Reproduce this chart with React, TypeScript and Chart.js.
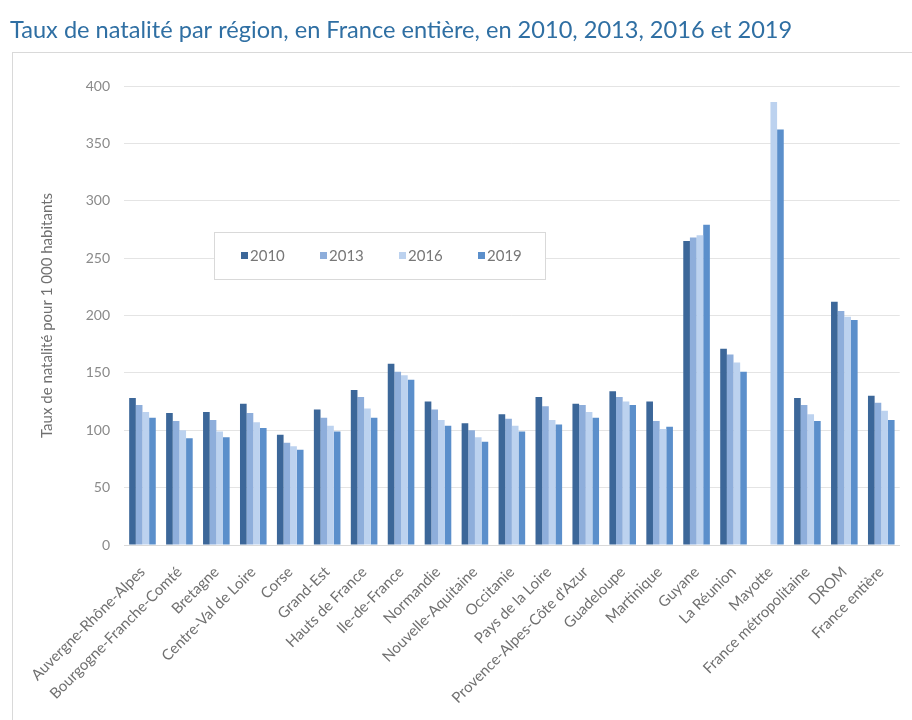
import React, { useEffect, useRef } from "react";
import { Chart, registerables } from "chart.js";

Chart.register(...registerables);

const TITLE = "Taux de natalité par région, en France entière, en 2010, 2013, 2016 et 2019";
const Y_TITLE = "Taux de natalité pour 1 000 habitants";

const categories = [
  "Auvergne-Rhône-Alpes",
  "Bourgogne-Franche-Comté",
  "Bretagne",
  "Centre-Val de Loire",
  "Corse",
  "Grand-Est",
  "Hauts de France",
  "Ile-de-France",
  "Normandie",
  "Nouvelle-Aquitaine",
  "Occitanie",
  "Pays de la Loire",
  "Provence-Alpes-Côte d'Azur",
  "Guadeloupe",
  "Martinique",
  "Guyane",
  "La Réunion",
  "Mayotte",
  "France métropolitaine",
  "DROM",
  "France entière",
];

const years = ["2010", "2013", "2016", "2019"];

const values2010 = [128, 115, 116, 123, 96, 118, 135, 158, 125, 106, 114, 129, 123, 134, 125, 265, 171, null, 128, 212, 130];
const values2013 = [122, 108, 109, 115, 89, 111, 129, 151, 118, 100, 110, 121, 122, 129, 108, 268, 166, null, 122, 204, 124];
const values2016 = [116, 100, 99, 107, 86, 104, 119, 148, 109, 94, 104, 109, 116, 125, 101, 270, 159, 386, 114, 199, 117];
const values2019 = [111, 93, 94, 102, 83, 99, 111, 144, 104, 90, 99, 105, 111, 122, 103, 279, 151, 362, 108, 196, 109];

const seriesColors = ["#3c6799", "#8eaedb", "#bcd2ef", "#5b8fcb"];

const yMin = 0;
const yMax = 400;
const yStep = 50;

const FONT = "Lato, 'Open Sans', sans-serif";

const framePlugin = {
  id: "frameAndTitle",
  beforeDraw(chart: any) {
    const ctx = chart.ctx;
    ctx.save();
    ctx.fillStyle = "#ffffff";
    ctx.fillRect(0, 0, chart.width, chart.height);
    ctx.strokeStyle = "#d9d9d9";
    ctx.lineWidth = 1;
    ctx.strokeRect(12.5, 52.5, chart.width + 20, chart.height + 20);
    ctx.fillStyle = "#2f6fa3";
    ctx.font = `23.6px ${FONT}`;
    ctx.textBaseline = "middle";
    ctx.textAlign = "left";
    ctx.fillText(TITLE, 10, 30);
    ctx.restore();
  },
};

const legendPlugin = {
  id: "floatingLegend",
  afterDraw(chart: any) {
    const ctx = chart.ctx;
    ctx.save();
    const bx = 214.5, by = 232.5, bw = 331, bh = 47;
    ctx.fillStyle = "#ffffff";
    ctx.fillRect(bx, by, bw, bh);
    ctx.strokeStyle = "#d9d9d9";
    ctx.lineWidth = 1;
    ctx.strokeRect(bx, by, bw, bh);
    ctx.font = `15px ${FONT}`;
    ctx.textBaseline = "middle";
    ctx.textAlign = "left";
    chart.data.datasets.forEach((ds: any, i: number) => {
      const x = 241 + i * 79;
      const cy = by + bh / 2;
      ctx.fillStyle = ds.backgroundColor;
      ctx.fillRect(x, cy - 4, 7, 7);
      ctx.fillStyle = "#777777";
      ctx.fillText(ds.label, x + 9, cy);
    });
    ctx.restore();
  },
};

export default function App() {
  const canvasRef = useRef<HTMLCanvasElement | null>(null);

  useEffect(() => {
    if (!canvasRef.current) return;
    const seriesValues = [values2010, values2013, values2016, values2019];
    const chart = new Chart(canvasRef.current, {
      type: "bar",
      data: {
        labels: categories,
        datasets: years.map((y, i) => ({
          label: y,
          data: seriesValues[i],
          backgroundColor: seriesColors[i],
          borderWidth: 0,
          categoryPercentage: 0.72,
          barPercentage: 1.0,
        })),
      },
      options: {
        responsive: false,
        animation: false,
        devicePixelRatio: 1,
        layout: { padding: { top: 86, left: 0, right: 0, bottom: 0 } },
        plugins: {
          legend: { display: false },
          title: { display: false },
          tooltip: { enabled: false },
        },
        scales: {
          x: {
            grid: { display: false, drawTicks: false },
            border: { display: true, color: "#d9d9d9" },
            ticks: {
              minRotation: 45,
              maxRotation: 45,
              autoSkip: false,
              padding: 18,
              color: "#707070",
              font: { family: FONT, size: 15 },
            },
            afterFit: (s: any) => {
              s.height = 175;
            },
          },
          y: {
            min: yMin,
            max: yMax,
            ticks: {
              stepSize: yStep,
              padding: 14,
              color: "#8a8a8a",
              font: { family: FONT, size: 14 },
            },
            grid: { color: "#e4e4e4", drawTicks: false },
            border: { display: false },
            title: {
              display: true,
              text: Y_TITLE,
              color: "#707070",
              font: { family: FONT, size: 15 },
              padding: { top: 38, bottom: 0 },
            },
            afterFit: (s: any) => {
              s.width = 124;
            },
          },
        },
      },
      plugins: [framePlugin, legendPlugin],
    });
    return () => chart.destroy();
  }, []);

  return (
    <div style={{ position: "fixed", left: 0, top: 0, width: 912, height: 720, background: "#fff" }}>
      <canvas ref={canvasRef} width={912} height={720} style={{ width: 912, height: 720, display: "block" }} />
    </div>
  );
}
